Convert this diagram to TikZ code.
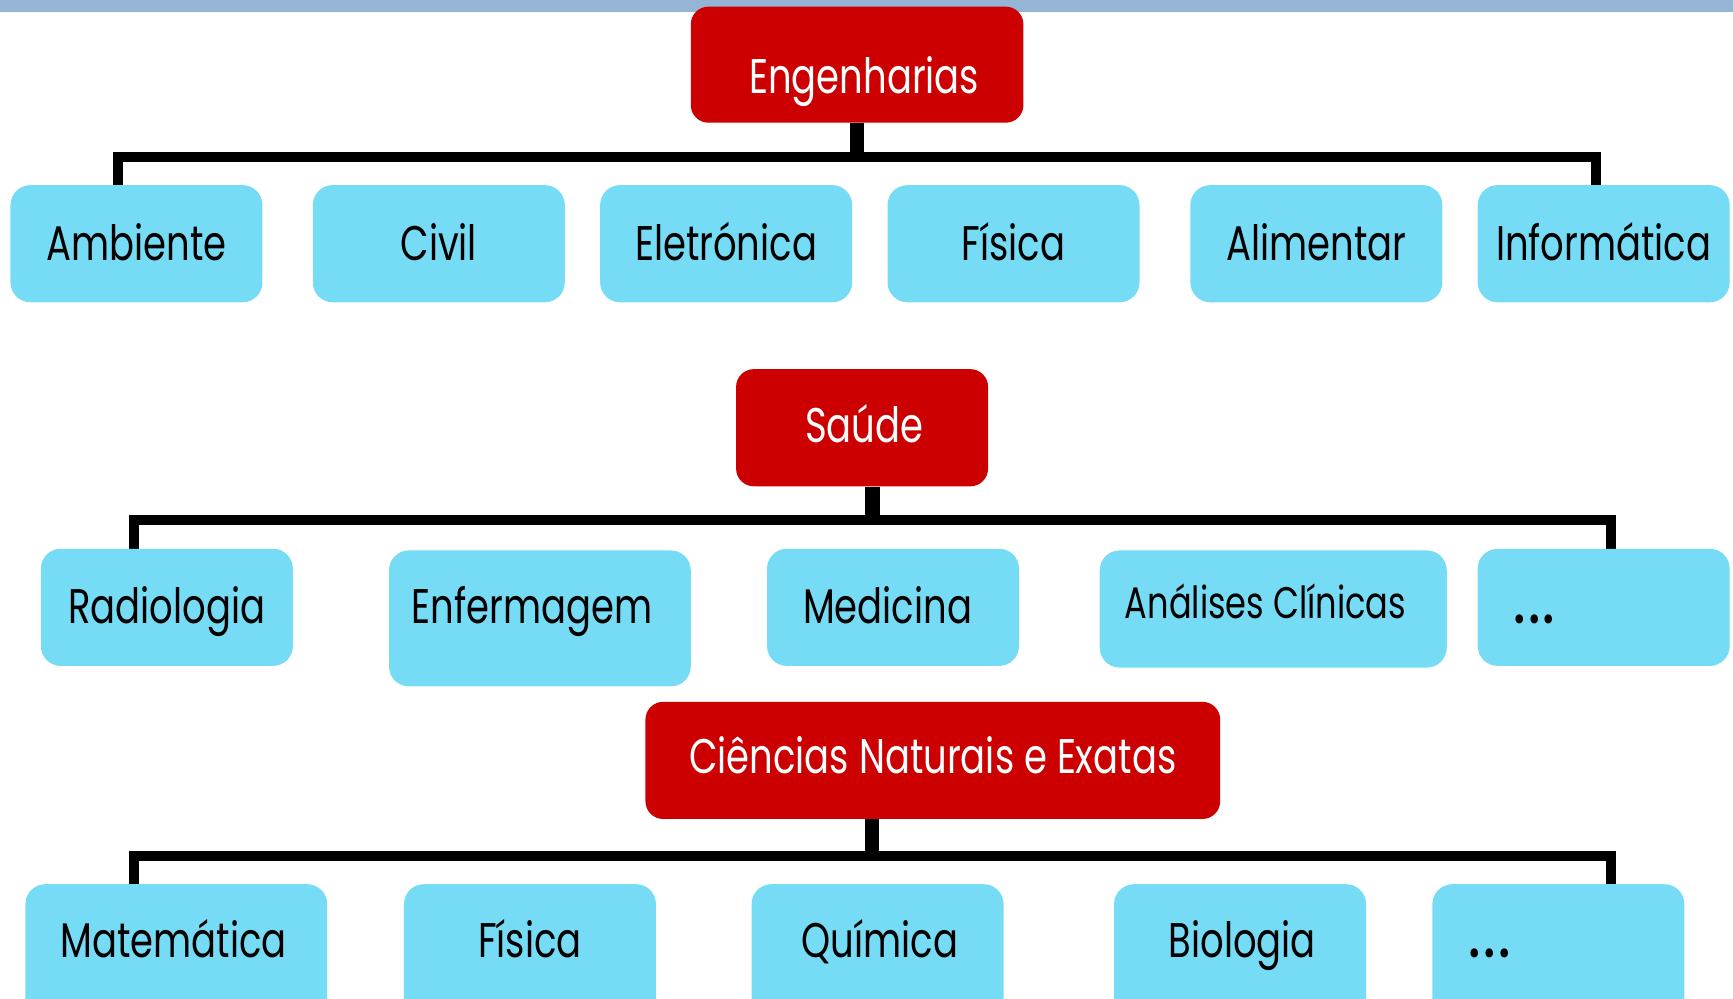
\documentclass[tikz,border=0pt]{standalone}
\usepackage{fontspec}
\setmainfont[FakeStretch=0.76]{Poppins}
\usetikzlibrary{backgrounds}
\definecolor{hdred}{HTML}{CC0000}
\definecolor{boxcyan}{HTML}{76DBF4}
\definecolor{bandblue}{HTML}{95B5D5}
\newcommand{\mydots}{{\bfseries .\hspace{4pt}.\hspace{4pt}.}}
\begin{document}
\begin{tikzpicture}[x=1pt,y=-1pt,
  hdbox/.style={fill=hdred, rounded corners=16pt, inner xsep=0pt, inner ysep=0pt,
    text=white, font=\fontsize{44}{48}\selectfont, anchor=base},
  subbox/.style={fill=boxcyan, rounded corners=18pt, inner xsep=0pt, inner ysep=0pt,
    text=black, font=\fontsize{44}{48}\selectfont, anchor=base,
    minimum width=228pt, text height=68pt, text depth=38pt},
  conn/.style={draw=black, line width=9pt, line join=miter, line cap=butt},
  stub/.style={draw=black, line width=13pt, line cap=butt}]
\useasboundingbox (0,0) rectangle (1568,903);
\clip (0,0) rectangle (1568,903);
\begin{pgfonlayer}{background}
\fill[bandblue] (0,0) rectangle (1568,11);
\end{pgfonlayer}
% Engenharias
\node[hdbox, minimum width=301pt, text height=79pt, text depth=26pt] (eng) at (775.5,85) {\kern13pt Engenharias};
\node[subbox] (amb) at (123.5,235.5) {Ambiente};
\node[subbox] (civ) at (397,235.5) {Civil};
\node[subbox] (ele) at (657,235.5) {Eletrónica};
\node[subbox] (fis) at (917,235.5) {Física};
\node[subbox] (ali) at (1191,235.5) {Alimentar};
\node[subbox] (inf) at (1451,235.5) {Informática};
% Saude
\node[hdbox, minimum width=228pt, text height=66pt, text depth=40pt] (sau) at (780,400) {\kern4pt Saúde};
\node[subbox] (rad) at (151,564.5) {Radiologia};
\node[subbox, minimum width=273pt, text height=66.5pt, text depth=56.5pt] (enf) at (488.5,564.5) {\kern-14pt Enfermagem};
\node[subbox] (med) at (808,564.5) {\kern-10pt Medicina};
\node[subbox, minimum width=314pt, text height=62pt, text depth=44pt, font=\fontsize{40}{44}\selectfont] (ana) at (1152,560) {\kern-14pt Análises Clínicas};
\node[subbox, text width=162pt, align=left] (dots1) at (1451,564.5) {\mydots};
% Ciencias
\node[hdbox, minimum width=520pt, text height=65pt, text depth=41pt] (cie) at (844,700) {Ciências Naturais e Exatas};
\node[subbox, minimum width=273pt, text height=66.5pt, text depth=60pt] (mat) at (159.5,866.5) {\kern-5pt Matemática};
\node[subbox, text height=66.5pt, text depth=60pt] (fis2) at (479.5,866.5) {Física};
\node[subbox, text height=66.5pt, text depth=60pt] (qui) at (794,866.5) {\kern4pt Química};
\node[subbox, text height=66.5pt, text depth=60pt] (bio) at (1122,866.5) {\kern4pt Biologia};
\node[subbox, text height=66.5pt, text depth=60pt, text width=160pt, align=left] (dots2) at (1410,866.5) {\mydots};
\begin{pgfonlayer}{background}
\draw[stub] (eng.south) -- ++(0,34);
\draw[conn] ([xshift=-16.5pt]amb.north) -- ++(0,-25) -| ([xshift=-7pt]inf.north);
\draw[stub] ([xshift=9.5pt]sau.south) -- ++(0,32);
\draw[conn] ([xshift=-30pt]rad.north) -- ++(0,-26) -| ([xshift=7pt]dots1.north);
\draw[stub] ([xshift=-55pt]cie.south) -- ++(0,34);
\draw[conn] ([xshift=-38.5pt]mat.north) -- ++(0,-25) -| ([xshift=48pt]dots2.north);
\end{pgfonlayer}
\end{tikzpicture}
\end{document}
